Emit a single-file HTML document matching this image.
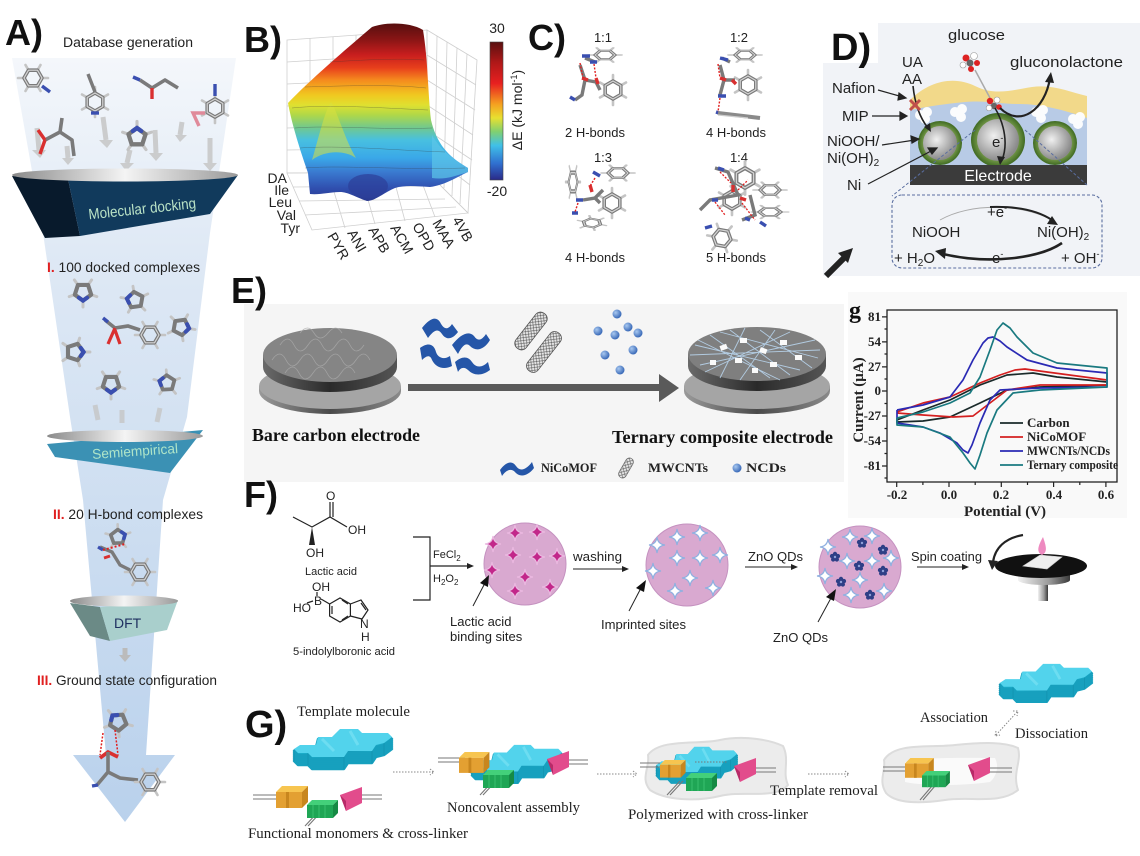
<!DOCTYPE html>
<html><head><meta charset="utf-8">
<style>
html,body{margin:0;padding:0;background:#fff;}
svg{display:block;}
.s{font-family:"Liberation Sans",Arial,sans-serif;}
.r{font-family:"Liberation Serif","Times New Roman",serif;}
</style></head><body>
<svg width="1140" height="856" viewBox="0 0 1140 856" xmlns="http://www.w3.org/2000/svg">
<defs>
<linearGradient id="cone" x1="0" y1="58" x2="0" y2="822" gradientUnits="userSpaceOnUse">
<stop offset="0" stop-color="#f4f7fb"/><stop offset="0.25" stop-color="#dfe9f5"/><stop offset="1" stop-color="#b9d1ec"/></linearGradient>
<linearGradient id="rim" x1="0" y1="0" x2="1" y2="0">
<stop offset="0" stop-color="#8a8a8a"/><stop offset="0.5" stop-color="#f4f4f4"/><stop offset="1" stop-color="#9a9a9a"/></linearGradient>
<linearGradient id="jet" x1="0" y1="25" x2="0" y2="200" gradientUnits="userSpaceOnUse">
<stop offset="0" stop-color="#5b0f0f"/><stop offset="0.086" stop-color="#8b1515"/><stop offset="0.17" stop-color="#c81e1e"/><stop offset="0.246" stop-color="#e8401c"/><stop offset="0.314" stop-color="#f58a1e"/><stop offset="0.4" stop-color="#f0c820"/><stop offset="0.457" stop-color="#e0e030"/><stop offset="0.514" stop-color="#b0d848"/><stop offset="0.589" stop-color="#70c890"/><stop offset="0.657" stop-color="#48c0e0"/><stop offset="0.76" stop-color="#3aa8e8"/><stop offset="0.84" stop-color="#3a7ad0"/><stop offset="0.93" stop-color="#3050b0"/><stop offset="1" stop-color="#2a3a90"/></linearGradient>
<linearGradient id="cbar" x1="0" y1="0" x2="0" y2="1">
<stop offset="0" stop-color="#5a1010"/><stop offset="0.15" stop-color="#b01818"/><stop offset="0.3" stop-color="#e82020"/><stop offset="0.45" stop-color="#f5a020"/><stop offset="0.55" stop-color="#e8e030"/><stop offset="0.65" stop-color="#80d070"/><stop offset="0.75" stop-color="#40c0e8"/><stop offset="0.88" stop-color="#3070d0"/><stop offset="1" stop-color="#2a2a88"/></linearGradient>
<radialGradient id="ball" cx="0.4" cy="0.4" r="0.6"><stop offset="0" stop-color="#f0f0f0"/><stop offset="1" stop-color="#8a8a8a"/></radialGradient>
<radialGradient id="gring" cx="0.5" cy="0.5" r="0.5"><stop offset="0.7" stop-color="#7da050"/><stop offset="1" stop-color="#3f6a22"/></radialGradient>
<linearGradient id="side" x1="0" y1="0" x2="1" y2="0"><stop offset="0" stop-color="#6a6a6a"/><stop offset="0.5" stop-color="#2a2a2a"/><stop offset="1" stop-color="#555"/></linearGradient>
<linearGradient id="ringside" x1="0" y1="0" x2="1" y2="0"><stop offset="0" stop-color="#9a9a9a"/><stop offset="0.5" stop-color="#4a4a4a"/><stop offset="1" stop-color="#8a8a8a"/></linearGradient>
<radialGradient id="dot" cx="0.35" cy="0.35" r="0.65"><stop offset="0" stop-color="#a8c8f0"/><stop offset="1" stop-color="#3a6ab8"/></radialGradient>
<pattern id="mesh" width="4" height="4" patternUnits="userSpaceOnUse"><rect width="4" height="4" fill="#e6e6e6"/><path d="M0,0 L4,4 M4,0 L0,4" stroke="#555" stroke-width="0.6"/></pattern>
<linearGradient id="spin" x1="0" y1="0" x2="1" y2="0"><stop offset="0" stop-color="#f2f2f2"/><stop offset="0.6" stop-color="#9a9a9a"/><stop offset="1" stop-color="#3a3a3a"/></linearGradient>
<linearGradient id="pzside" x1="0" y1="0" x2="1" y2="0"><stop offset="0" stop-color="#1fb4d0"/><stop offset="0.5" stop-color="#159ab8"/><stop offset="1" stop-color="#1fb0cc"/></linearGradient>
<g id="hx" fill="none" stroke-linecap="round">
<path d="M9,0 L15,0 M4.5,7.8 L7.5,13 M-4.5,7.8 L-7.5,13 M-9,0 L-15,0 M-4.5,-7.8 L-7.5,-13 M4.5,-7.8 L7.5,-13" stroke="#c4c4c4" stroke-width="2.6"/>
<polygon points="9,0 4.5,7.8 -4.5,7.8 -9,0 -4.5,-7.8 4.5,-7.8" stroke="#7a7a7a" stroke-width="3.6" stroke-linejoin="round"/>
<polygon points="9,0 4.5,7.8 -4.5,7.8 -9,0 -4.5,-7.8 4.5,-7.8" stroke="#d4d4d4" stroke-width="1.2" stroke-linejoin="round"/>
</g>
<g id="pn" fill="none" stroke-linecap="round">
<path d="M0,-7.5 L0,-13 M7.1,-2.3 L12,-4 M4.4,6.1 L7.5,10.5 M-4.4,6.1 L-7.5,10.5 M-7.1,-2.3 L-12,-4" stroke="#c4c4c4" stroke-width="2.6"/>
<polygon points="0,-7.5 7.1,-2.3 4.4,6.1 -4.4,6.1 -7.1,-2.3" stroke="#7a7a7a" stroke-width="3.6" stroke-linejoin="round"/>
<path d="M-3.5,-5 L0,-7.5 L3.5,-5" stroke="#3a4fb0" stroke-width="3.6"/>
</g>
<path id="st" d="M0,-8 Q0.8,-0.8 8,0 Q0.8,0.8 0,8 Q-0.8,0.8 -8,0 Q-0.8,-0.8 0,-8 Z"/>
<g id="qd" fill="#2e3f86"><circle cx="0" cy="-3" r="2.2"/><circle cx="2.9" cy="-0.9" r="2.2"/><circle cx="1.8" cy="2.4" r="2.2"/><circle cx="-1.8" cy="2.4" r="2.2"/><circle cx="-2.9" cy="-0.9" r="2.2"/><circle cx="0" cy="0" r="1.2" fill="#8fa0d8"/></g>
<path id="pzs" d="M8,18 L24,18 L26,10 L40,10 L48,2 L66,2 L70,6 L96,6 L100,10 L92,16 L84,18 L80,24 L56,24 L52,30 L20,30 L16,26 L6,26 L2,22 Z"/>
<g id="pz">
<g fill="url(#pzside)" stroke="#17a0be" stroke-width="2.4" stroke-linejoin="round">
<use href="#pzs" y="12"/><use href="#pzs" y="10"/><use href="#pzs" y="8"/><use href="#pzs" y="6"/><use href="#pzs" y="4"/><use href="#pzs" y="2"/>
</g>
<path d="M2,22 L2,34 M16,26 L16,38 M52,30 L52,42 M80,24 L80,36 M92,16 L92,28" stroke="#0f88a4" stroke-width="0.8" opacity="0.6"/>
<use href="#pzs" fill="#52d3ec"/>
<path d="M30,12 L42,24 M58,4 L66,18" stroke="#80e4f5" stroke-width="3" opacity="0.6"/>
</g>
<g id="ob"><rect x="0" y="6" width="26" height="16" fill="#e3a032"/><polygon points="0,6 6,0 32,0 26,6" fill="#f7c550"/><polygon points="26,6 32,0 32,16 26,22" fill="#c8861e"/><rect x="10" y="6" width="3" height="16" fill="#c8861e"/></g>
<g id="gb"><rect x="0" y="5" width="26" height="13" fill="#1fa655"/><polygon points="0,5 5,0 31,0 26,5" fill="#43d07a"/><polygon points="26,5 31,0 31,13 26,18" fill="#168a44"/><path d="M6,5 v13 M12,5 v13 M18,5 v13" stroke="#38c070" stroke-width="1"/></g>
<g id="pk"><polygon points="0,8 22,0 22,16 6,24" fill="#e24c8c"/><polygon points="0,8 6,24 6,14" fill="#b82a68"/></g>
</defs>

<!-- ================= PANEL A ================= -->
<polygon points="12,58 236,58 210,233 187,417 163,500 146,755 175,755 125,822 73,755 106,755 83,500 70,417 43,233" fill="url(#cone)"/>
<text class="s" x="5" y="45" font-size="36" font-weight="bold" fill="#111">A)</text>
<text class="s" x="63" y="47" font-size="13.5" fill="#222" textLength="130" lengthAdjust="spacingAndGlyphs">Database generation</text>
<g stroke="#c6c6c6" stroke-width="5" opacity="0.85">
<line x1="37" y1="128" x2="39" y2="150"/><line x1="103" y1="117" x2="106" y2="140"/><line x1="182" y1="122" x2="180" y2="135"/><line x1="210" y1="138" x2="210" y2="163"/><line x1="67" y1="146" x2="68" y2="158"/><line x1="130" y1="150" x2="127" y2="163"/><line x1="155" y1="130" x2="156" y2="153"/>
</g>
<g fill="#c6c6c6" opacity="0.85">
<polygon points="32,150 46,150 40,158"/><polygon points="99,140 113,140 107,148"/><polygon points="175,135 187,135 180,142"/><polygon points="203,163 217,163 210,171"/><polygon points="62,158 74,158 68,165"/><polygon points="120,163 134,163 126,171"/><polygon points="149,153 163,153 156,161"/>
</g>
<use href="#hx" transform="translate(33,78)"/>
<path d="M42,86 L50,92" stroke="#3a4fb0" stroke-width="3.4"/>
<use href="#hx" transform="translate(95,102) rotate(30)"/>
<path d="M95,92 L88,74" stroke="#7a7a7a" stroke-width="3.4"/><path d="M91,113 L99,113" stroke="#3a4fb0" stroke-width="3.4"/>
<path d="M140,80 L152,88 L165,80 L178,88" stroke="#7a7a7a" stroke-width="3.6" fill="none" stroke-linejoin="round"/>
<path d="M133,77 L140,80" stroke="#3a4fb0" stroke-width="3.4"/><path d="M152,88 L152,99" stroke="#d93030" stroke-width="3.4"/>
<use href="#hx" transform="translate(215,108) rotate(30)"/>
<path d="M205,113 L193,113 L199,126" stroke="#e08a9a" stroke-width="3.4" fill="none"/><path d="M215,96 L215,84" stroke="#3a4fb0" stroke-width="3.4"/>
<path d="M45,140 L60,132 L72,140 L74,156 M60,132 L62,118" stroke="#7a7a7a" stroke-width="3.6" fill="none" stroke-linejoin="round"/>
<path d="M45,140 L40,154 M45,140 L38,130" stroke="#d93030" stroke-width="3.4"/>
<use href="#pn" transform="translate(137,137) scale(1.2)"/>
<polygon points="12,176 68,179 80,236 45,238" fill="#081a2c"/>
<polygon points="68,179 238,175 210,214 80,236" fill="#113a5c"/>
<ellipse cx="125" cy="175" rx="113" ry="6.5" fill="url(#rim)"/>
<text class="s" x="88" y="214" font-size="15" fill="#b9e2c6" transform="rotate(-6 140 207)" textLength="108" lengthAdjust="spacingAndGlyphs">Molecular docking</text>
<text class="s" x="47" y="272" font-size="14" fill="#222" textLength="153" lengthAdjust="spacingAndGlyphs"><tspan fill="#e02020" font-weight="bold">I.</tspan> 100 docked complexes</text>
<use href="#pn" transform="translate(83,292) rotate(180) scale(1.15)"/>
<use href="#pn" transform="translate(135,300) rotate(-80) scale(1.1)"/>
<use href="#pn" transform="translate(181,327) rotate(100) scale(1.1)"/>
<use href="#pn" transform="translate(75,352) rotate(90) scale(1.15)"/>
<use href="#pn" transform="translate(111,384) rotate(180) scale(1.15)"/>
<use href="#pn" transform="translate(167,383) rotate(-75) scale(1.05)"/>
<use href="#hx" transform="translate(150,335)"/>
<path d="M105,320 L115,328 L128,326 L140,330" stroke="#7a7a7a" stroke-width="3.6" fill="none"/>
<path d="M103,318 L108,322" stroke="#3a4fb0" stroke-width="3.4"/><path d="M115,328 L108,344 M115,330 L120,344" stroke="#d93030" stroke-width="3.2"/>
<g stroke="#c6c6c6" stroke-width="5" opacity="0.8"><line x1="95" y1="405" x2="98" y2="420"/><line x1="122" y1="410" x2="122" y2="423"/><line x1="160" y1="408" x2="157" y2="422"/></g>
<polygon points="47,444 203,430 170,473 55,457" fill="#3b91b4"/>
<ellipse cx="125" cy="436" rx="78" ry="6" fill="url(#rim)"/>
<text class="s" x="92" y="456" font-size="14" fill="#aee4c8" transform="rotate(-4 135 451)" textLength="86" lengthAdjust="spacingAndGlyphs">Semiempirical</text>
<text class="s" x="53" y="519" font-size="14" fill="#222" textLength="150" lengthAdjust="spacingAndGlyphs"><tspan fill="#e02020" font-weight="bold">II.</tspan> 20 H-bond complexes</text>
<use href="#pn" transform="translate(118,537) rotate(70)"/>
<use href="#hx" transform="translate(140,572)"/>
<path d="M100,547 L112,552 L120,565 L130,570" stroke="#7a7a7a" stroke-width="3.4" fill="none"/>
<path d="M98,547 L103,550" stroke="#3a4fb0" stroke-width="3.2"/><path d="M104,558 L110,556" stroke="#d93030" stroke-width="3"/>
<path d="M103,550 L125,544" stroke="#e02020" stroke-width="2" stroke-dasharray="2,2"/>
<polygon points="70,603 100,607 110,641 90,636" fill="#6b8a86"/>
<polygon points="100,607 178,600 167,630 110,641" fill="#a9cfcc"/>
<ellipse cx="124" cy="601" rx="54" ry="5.5" fill="url(#rim)"/>
<text class="s" x="114" y="628" font-size="14" fill="#1f3060">DFT</text>
<line x1="125" y1="648" x2="125" y2="656" stroke="#bbb" stroke-width="5"/><polygon points="119,655 131,655 125,662" fill="#bbb"/>
<text class="s" x="37" y="685" font-size="14" fill="#222" textLength="180" lengthAdjust="spacingAndGlyphs"><tspan fill="#e02020" font-weight="bold">III.</tspan> Ground state configuration</text>
<use href="#pn" transform="translate(118,722) rotate(-40) scale(1.15)"/>
<path d="M103,733 L100,755 M115,730 L118,755" stroke="#e02020" stroke-width="1.5" stroke-dasharray="2,1.5"/>
<path d="M100,758 L108,752 L118,757" stroke="#d93030" stroke-width="3.6" fill="none"/>
<path d="M108,752 L108,772 L97,785 M108,772 L120,778 L138,780" stroke="#7a7a7a" stroke-width="3.6" fill="none"/>
<path d="M92,786 L98,785" stroke="#3a4fb0" stroke-width="3.4"/>
<use href="#hx" transform="translate(150,782)"/>

<!-- ================= PANEL B ================= -->
<text class="s" x="244" y="52" font-size="36" font-weight="bold" fill="#111">B)</text>
<g stroke="#cfcfcf" stroke-width="0.8" fill="none">
<polygon points="287,40 427,30 427,172 287,173"/>
<polygon points="427,30 477,60 468,213 427,172"/>
<polygon points="287,173 427,172 468,213 312,230"/>
<path d="M310,38 V173 M333,37 V173 M356,35 V173 M379,33 V172 M402,32 V172 M287,62 L427,53 M287,84 L427,77 M287,106 L427,101 M287,128 L427,124 M287,150 L427,148"/>
<path d="M437,36 L435,180 M447,42 L444,188 M457,48 L452,196 M467,54 L460,204 M427,55 L476,85 M427,80 L475,110 M427,105 L473,135 M427,130 L472,160 M427,152 L470,185"/>
<path d="M293,187 L433,186 M299,201 L445,199 M305,215 L456,207 M328,172 L345,228 M360,172 L375,224 M392,172 L405,221 M418,172 L435,217"/>
</g>
<path d="M288,103 C310,80 345,50 372,27 C385,22 410,22 423,30 C428,60 428,95 431,120 C438,150 455,160 468,168 L468,172 C455,178 445,185 430,187 C415,186 405,185 395,188 C385,192 375,201 367,201 C355,197 348,192 340,192 C330,192 320,195 310,194 L308,173 C300,150 292,125 288,103 Z" fill="url(#jet)"/>
<path d="M432,135 C440,150 455,160 468,168 L468,172 C455,176 445,180 432,178 Z" fill="#5cc6e8" opacity="0.7"/>
<path d="M312,160 C318,140 325,110 331,102 C336,108 345,140 356,158 C345,150 325,150 312,160 Z" fill="#d8e040" opacity="0.55"/>
<ellipse cx="368" cy="186" rx="20" ry="12" fill="#2c3f98" opacity="0.7"/>
<g stroke="#333" stroke-width="0.5" fill="none" opacity="0.45">
<path d="M330,62 C360,60 400,58 424,60"/><path d="M305,87 C340,86 390,84 426,88"/><path d="M292,108 C330,104 380,108 428,110"/><path d="M295,128 C330,125 380,130 432,128"/><path d="M300,148 C340,145 390,150 445,152"/><path d="M305,168 C340,165 400,170 465,168"/>
</g>
<rect x="490" y="42" width="13" height="138" fill="url(#cbar)"/>
<rect x="490" y="42" width="13" height="138" fill="none" stroke="#444" stroke-width="0.6"/>
<text class="s" x="497" y="33" font-size="14" fill="#222" text-anchor="middle">30</text>
<text class="s" x="497" y="196" font-size="14" fill="#222" text-anchor="middle">-20</text>
<text class="s" x="522" y="110" font-size="14" fill="#222" text-anchor="middle" transform="rotate(-90 522 110)">ΔE (kJ mol<tspan font-size="9" dy="-5">-1</tspan><tspan dy="5">)</tspan></text>
<g class="s" font-size="14" fill="#222" text-anchor="end">
<text x="287" y="183">DA</text><text x="289" y="195">Ile</text><text x="292" y="207">Leu</text><text x="296" y="220">Val</text><text x="300" y="233">Tyr</text>
</g>
<g class="s" font-size="14" fill="#222">
<text x="327" y="236" transform="rotate(60 327 236)">PYR</text>
<text x="347" y="233" transform="rotate(60 347 233)">ANI</text>
<text x="368" y="230" transform="rotate(60 368 230)">APB</text>
<text x="390" y="228" transform="rotate(60 390 228)">ACM</text>
<text x="412" y="226" transform="rotate(60 412 226)">OPD</text>
<text x="432" y="223" transform="rotate(60 432 223)">MAA</text>
<text x="452" y="220" transform="rotate(60 452 220)">4VB</text>
</g>

<!-- ================= PANEL C ================= -->
<text class="s" x="528" y="50" font-size="36" font-weight="bold" fill="#111">C)</text>
<g class="s" font-size="13" fill="#222" text-anchor="middle">
<text x="603" y="42">1:1</text><text x="739" y="42">1:2</text>
<text x="595" y="137">2 H-bonds</text><text x="736" y="137">4 H-bonds</text>
<text x="603" y="162">1:3</text><text x="739" y="162">1:4</text>
<text x="595" y="262">4 H-bonds</text><text x="736" y="262">5 H-bonds</text>
</g>
<use href="#hx" transform="translate(605,55) scale(1.1,0.55)"/>
<use href="#hx" transform="translate(613,90) rotate(90)"/>
<path d="M585,58 L595,62 M580,65 L585,80 L582,95 L575,100 M585,80 L596,82 L600,90" stroke="#7a7a7a" stroke-width="3.4" fill="none"/>
<path d="M582,56 L590,56 M590,62 L597,62" stroke="#3a4fb0" stroke-width="3.4"/><path d="M582,78 L588,80 M596,78 L598,84" stroke="#d93030" stroke-width="3.4"/>
<path d="M570,97 L575,100" stroke="#3a4fb0" stroke-width="3.4"/>
<path d="M580,63 L583,78 M594,64 L596,78" stroke="#e02020" stroke-width="1.4" stroke-dasharray="2,1.5"/>
<use href="#hx" transform="translate(745,55) scale(1.1,0.55)"/>
<use href="#hx" transform="translate(748,85) rotate(90)"/>
<path d="M722,58 L730,62 M720,65 L724,80 L720,95 M724,80 L735,80" stroke="#7a7a7a" stroke-width="3.4" fill="none"/>
<path d="M720,58 L728,60 M718,96 L726,96 M716,112 L722,114" stroke="#3a4fb0" stroke-width="3.4"/><path d="M720,78 L726,80 M732,80 L736,84" stroke="#d93030" stroke-width="3.4"/>
<path d="M718,64 L720,78 M720,98 L718,112" stroke="#e02020" stroke-width="1.4" stroke-dasharray="2,1.5"/>
<path d="M718,113 L760,118" stroke="#8a8a8a" stroke-width="4"/><path d="M718,115 L748,118" stroke="#ccc" stroke-width="1.2"/>
<use href="#hx" transform="translate(618,173) scale(1.1,0.6)"/>
<use href="#hx" transform="translate(612,203) rotate(90)"/>
<use href="#hx" transform="translate(573,182) scale(0.5,1.2)"/>
<use href="#hx" transform="translate(592,223) scale(1,0.5) rotate(20)"/>
<path d="M583,200 L595,198 L603,190 M595,198 L600,203" stroke="#7a7a7a" stroke-width="3.4" fill="none"/>
<path d="M593,172 L600,176 M576,200 L583,200 M572,213 L578,213" stroke="#3a4fb0" stroke-width="3.4"/><path d="M590,185 L592,192" stroke="#d93030" stroke-width="3.4"/>
<path d="M595,178 L590,186 M578,203 L575,212" stroke="#e02020" stroke-width="1.4" stroke-dasharray="2,1.5"/>
<use href="#hx" transform="translate(745,178) rotate(90) scale(1.1)"/>
<use href="#hx" transform="translate(770,190) scale(1.1,0.6)"/>
<use href="#hx" transform="translate(770,212) scale(1.2,0.5)"/>
<use href="#hx" transform="translate(722,238) rotate(10)"/>
<use href="#hx" transform="translate(732,200) rotate(30)"/>
<path d="M715,168 L728,172 L738,195 L710,200 L700,210 M750,195 L755,215 L742,220" stroke="#7a7a7a" stroke-width="3.4" fill="none"/>
<path d="M718,168 L724,170 M712,200 L718,200 M745,218 L750,220 M705,228 L712,226 M760,222 L766,226" stroke="#3a4fb0" stroke-width="3.4"/>
<path d="M733,185 L733,192 M740,198 L746,200" stroke="#d93030" stroke-width="3.4"/>
<path d="M720,172 L731,183 M715,202 L725,215 M742,203 L755,220 M738,190 L748,180" stroke="#e02020" stroke-width="1.3" stroke-dasharray="2,1.5"/>

<!-- ================= PANEL D ================= -->
<path d="M878,23 H1140 V276 H823 V63 H878 Z" fill="#f1f3f7"/>
<text class="s" x="831" y="60" font-size="38" font-weight="bold" fill="#111">D)</text>
<g class="s" font-size="15" fill="#222">
<text x="948" y="40" textLength="57" lengthAdjust="spacingAndGlyphs">glucose</text>
<text x="902" y="67">UA</text><text x="902" y="84">AA</text>
<text x="1010" y="67" textLength="113" lengthAdjust="spacingAndGlyphs">gluconolactone</text>
<text x="832" y="93">Nafion</text>
<text x="842" y="121">MIP</text>
<text x="827" y="146">NiOOH/</text>
<text x="827" y="163">Ni(OH)<tspan font-size="10" dy="3">2</tspan></text>
<text x="847" y="190">Ni</text>
</g>
<path d="M910,103 C930,86 955,82 975,90 S1012,96 1032,94 S1070,97 1087,100 L1087,165 L910,165 Z" fill="#b8cbe6"/>
<path d="M910,100 C930,80 955,76 975,86 S1012,90 1032,87 S1070,92 1087,96 L1087,118 C1065,110 1040,104 1020,104 S985,100 965,102 S930,106 910,110 Z" fill="#f2d98a"/>
<g fill="#fff" opacity="0.95">
<circle cx="920" cy="115" r="5"/><circle cx="927" cy="112" r="5"/><circle cx="925" cy="119" r="5"/>
<circle cx="955" cy="112" r="5"/><circle cx="962" cy="109" r="5"/><circle cx="961" cy="117" r="5"/>
<circle cx="1036" cy="112" r="5"/><circle cx="1043" cy="110" r="5"/><circle cx="1041" cy="118" r="5"/>
<circle cx="1073" cy="119" r="5"/><circle cx="1080" cy="117" r="5"/><circle cx="1078" cy="124" r="5"/>
</g>
<circle cx="940" cy="143" r="22" fill="url(#gring)"/><circle cx="940" cy="143" r="17" fill="url(#ball)"/>
<circle cx="998" cy="140" r="27" fill="url(#gring)"/><circle cx="998" cy="140" r="21" fill="url(#ball)"/>
<circle cx="1055" cy="143" r="22" fill="url(#gring)"/><circle cx="1055" cy="143" r="17" fill="url(#ball)"/>
<rect x="910" y="165" width="177" height="20" fill="#3b3b3b"/>
<text class="s" x="998" y="181" font-size="16" fill="#fff" text-anchor="middle">Electrode</text>
<text class="s" x="992" y="147" font-size="15" fill="#222">e<tspan font-size="9" dy="-6">-</tspan></text>
<g stroke="#222" stroke-width="1.2" fill="#222">
<line x1="878" y1="90" x2="903" y2="97"/><polygon points="906,98 899,93 898,100"/>
<line x1="872" y1="116" x2="903" y2="116"/><polygon points="907,116 900,112 900,120"/>
<line x1="882" y1="145" x2="915" y2="140"/><polygon points="919,139 911,136 912,143"/>
<line x1="868" y1="184" x2="933" y2="150"/><polygon points="937,148 928,148 932,154"/>
</g>
<path d="M913,86 C915,105 920,118 928,128" stroke="#222" stroke-width="1.6" fill="none"/><polygon points="931,132 924,127 930,123" fill="#222"/>
<path d="M910,100 L920,110 M920,100 L910,110" stroke="#c0504a" stroke-width="3"/>
<g><circle cx="966" cy="58" r="3.5" fill="#d22"/><circle cx="974" cy="56" r="3.5" fill="#fff" stroke="#999" stroke-width="0.6"/><circle cx="970" cy="63" r="3.5" fill="#666"/><circle cx="977" cy="63" r="3" fill="#d22"/><circle cx="963" cy="65" r="3" fill="#fff" stroke="#999" stroke-width="0.6"/><circle cx="971" cy="69" r="3" fill="#d22"/></g>
<line x1="975" y1="70" x2="990" y2="98" stroke="#aaa" stroke-width="1.5"/>
<g><circle cx="990" cy="101" r="3.2" fill="#d22"/><circle cx="997" cy="100" r="3" fill="#fff" stroke="#999" stroke-width="0.6"/><circle cx="994" cy="106" r="3.2" fill="#666"/><circle cx="999" cy="107" r="2.8" fill="#d22"/><circle cx="989" cy="108" r="2.8" fill="#fff" stroke="#999" stroke-width="0.6"/></g>
<path d="M995,108 C1005,125 1008,145 1002,160" stroke="#222" stroke-width="1.6" fill="none"/><polygon points="1000,165 997,156 1005,157" fill="#222"/>
<path d="M1000,108 C1020,128 1045,110 1050,78" stroke="#222" stroke-width="2.2" fill="none"/><polygon points="1051,72 1045,82 1054,83" fill="#222"/>
<path d="M975,130 L892,196 M1025,130 L1087,185" stroke="#5a6ea0" stroke-width="1" stroke-dasharray="3,2" fill="none"/>
<rect x="892" y="195" width="210" height="73" rx="10" fill="none" stroke="#5a6ea0" stroke-width="1.1" stroke-dasharray="3,2"/>
<g class="s" font-size="15" fill="#222">
<text x="987" y="217">+e<tspan font-size="9" dy="-6">-</tspan></text>
<text x="912" y="237">NiOOH</text>
<text x="1037" y="237">Ni(OH)<tspan font-size="10" dy="3">2</tspan></text>
<text x="894" y="263">+ H<tspan font-size="10" dy="3">2</tspan><tspan dy="-3">O</tspan></text>
<text x="987" y="263">-e<tspan font-size="9" dy="-6">-</tspan></text>
<text x="1061" y="263">+ OH<tspan font-size="9" dy="-6">-</tspan></text>
</g>
<path d="M940,220 C970,203 1020,203 1052,220" stroke="#aaa" stroke-width="1" fill="none"/>
<path d="M990,207 C1020,206 1040,212 1052,220" stroke="#222" stroke-width="2" fill="none"/><polygon points="1058,225 1047,224 1052,216" fill="#222"/>
<path d="M1062,243 C1040,258 990,265 943,254" stroke="#222" stroke-width="2.6" fill="none"/><polygon points="935,251 946,248 945,259" fill="#222"/>
<path d="M826,276 L846,256" stroke="#222" stroke-width="6"/><polygon points="853,248 838,253 848,263" fill="#222"/>

<!-- ================= PANEL E ================= -->
<rect x="244" y="304" width="600" height="178" fill="#f5f5f5"/>
<text class="s" x="231" y="303" font-size="36" font-weight="bold" fill="#111">E)</text>
<path d="M259,386 L259,391 A71,23 0 0 0 401,391 L401,386 Z" fill="url(#ringside)"/>
<ellipse cx="330" cy="386" rx="71" ry="23" fill="#a5a5a5"/>
<path d="M263,355 L263,367 A67,25 0 0 0 397,367 L397,355 Z" fill="url(#side)"/>
<ellipse cx="330" cy="355" rx="67" ry="27" fill="#858585"/>
<g stroke="#aaa" stroke-width="0.8" fill="none" opacity="0.8">
<path d="M280,345 q8,-12 14,0 t14,0 t14,0 t14,0 t14,0 t14,0"/><path d="M272,360 q8,-12 14,0 t14,0 t14,0 t14,0 t14,0 t14,0 t14,0"/><path d="M285,373 q8,-12 14,0 t14,0 t14,0 t14,0 t14,0"/><path d="M300,333 q8,-10 14,0 t14,0 t14,0"/>
</g>
<rect x="408" y="384" width="252" height="7" fill="#5a5a5a"/>
<polygon points="659,374 679,388 659,402" fill="#5a5a5a"/>
<g fill="#2556a8">
<path d="M422,328 C430,318 436,316 440,322 C444,330 448,330 452,324 L458,332 C452,340 446,340 442,334 C438,328 434,330 428,338 Z"/>
<path d="M452,345 C460,335 468,330 474,336 C478,342 482,340 486,334 L490,340 C484,350 476,352 470,346 C466,342 462,346 458,354 Z"/>
<path d="M420,348 C428,342 434,344 436,352 C438,358 444,360 450,356 L452,366 C444,370 436,368 432,360 C430,354 426,356 422,360 Z"/>
<path d="M455,362 C462,356 468,356 472,362 C476,368 482,368 488,362 L490,370 C482,376 474,376 468,370 C464,366 460,368 458,372 Z"/>
</g>
<g transform="translate(531,331) rotate(-52)"><rect x="-22" y="-6.5" width="44" height="13" rx="6" fill="url(#mesh)" stroke="#555" stroke-width="0.8"/></g>
<g transform="translate(544,352) rotate(-52)"><rect x="-24" y="-6.5" width="48" height="13" rx="6" fill="url(#mesh)" stroke="#555" stroke-width="0.8"/></g>
<g fill="url(#dot)">
<circle cx="617" cy="314" r="4.5"/><circle cx="628" cy="327" r="4.5"/><circle cx="598" cy="331" r="4.5"/><circle cx="615" cy="335" r="4.5"/><circle cx="638" cy="333" r="4.5"/><circle cx="633" cy="350" r="4.5"/><circle cx="605" cy="355" r="4.5"/><circle cx="620" cy="370" r="4.5"/>
</g>
<path d="M684,386 L684,391 A73,23 0 0 0 830,391 L830,386 Z" fill="url(#ringside)"/>
<ellipse cx="757" cy="386" rx="73" ry="23" fill="#a5a5a5"/>
<path d="M688,354 L688,366 A69,25 0 0 0 826,366 L826,354 Z" fill="url(#side)"/>
<ellipse cx="757" cy="354" rx="69" ry="27" fill="#7f7f7f"/>
<g stroke="#b8d4ec" stroke-width="0.9" fill="none" opacity="0.9">
<path d="M695,345 L800,370 M700,365 L815,340 M710,335 L770,378 M730,330 L790,375 M745,328 L720,378 M690,355 L820,350 M760,330 L812,368 M705,372 L790,332 M775,330 L740,380 M698,340 L780,380 M720,332 L818,358"/>
</g>
<g fill="#fafafa">
<rect x="720" y="345" width="7" height="5" transform="rotate(-20 723 347)"/><rect x="740" y="338" width="7" height="5"/><rect x="760" y="348" width="7" height="5" transform="rotate(20 763 350)"/><rect x="780" y="340" width="7" height="5"/><rect x="735" y="358" width="7" height="5"/><rect x="770" y="362" width="7" height="5"/><rect x="795" y="355" width="7" height="5"/><rect x="710" y="360" width="6" height="5"/><rect x="752" y="368" width="6" height="5"/>
</g>
<text class="r" x="252" y="441" font-size="18" font-weight="bold" fill="#111" textLength="168" lengthAdjust="spacingAndGlyphs">Bare carbon electrode</text>
<text class="r" x="612" y="443" font-size="18" font-weight="bold" fill="#111" textLength="221" lengthAdjust="spacingAndGlyphs">Ternary composite electrode</text>
<path d="M500,470 C506,462 512,460 516,466 C520,472 526,470 532,462 L534,468 C528,476 520,478 515,472 C511,468 506,470 502,476 Z" fill="#2556a8"/>
<text class="r" x="541" y="472" font-size="13" font-weight="bold" fill="#222" textLength="56" lengthAdjust="spacingAndGlyphs">NiCoMOF</text>
<g transform="translate(626,468) rotate(-60)"><rect x="-11" y="-4" width="22" height="8" rx="4" fill="url(#mesh)" stroke="#666" stroke-width="0.6"/></g>
<text class="r" x="648" y="472" font-size="13" font-weight="bold" fill="#222" textLength="60" lengthAdjust="spacingAndGlyphs">MWCNTs</text>
<circle cx="737" cy="468" r="4.5" fill="url(#dot)"/>
<text class="r" x="746" y="472" font-size="13" font-weight="bold" fill="#222" textLength="40" lengthAdjust="spacingAndGlyphs">NCDs</text>

<!-- ================= PANEL g (CV) ================= -->
<rect x="848" y="292" width="279" height="226" fill="#f9f9f9"/>
<text class="r" x="849" y="318" font-size="24" font-weight="bold" fill="#111">g</text>
<rect x="887" y="310" width="230" height="172" fill="none" stroke="#222" stroke-width="1.3"/>
<g stroke="#222" stroke-width="1.2">
<path d="M882,316.9 H887 M882,341.9 H887 M882,366.9 H887 M882,391 H887 M882,416 H887 M882,441 H887 M882,466 H887"/>
<path d="M884.5,329 H887 M884.5,354 H887 M884.5,379 H887 M884.5,403.5 H887 M884.5,428.5 H887 M884.5,453.5 H887 M884.5,478 H887"/>
<path d="M896.7,482 V487 M949,482 V487 M1001.3,482 V487 M1053.6,482 V487 M1105.9,482 V487 M922.9,482 V485 M975.2,482 V485 M1027.5,482 V485 M1079.8,482 V485"/>
</g>
<g class="r" font-size="13" font-weight="bold" fill="#222" text-anchor="end">
<text x="881" y="321">81</text><text x="881" y="346">54</text><text x="881" y="371">27</text><text x="881" y="395">0</text><text x="881" y="420">-27</text><text x="881" y="445">-54</text><text x="881" y="470">-81</text>
</g>
<g class="r" font-size="13" font-weight="bold" fill="#222" text-anchor="middle">
<text x="897" y="499">-0.2</text><text x="949" y="499">0.0</text><text x="1001" y="499">0.2</text><text x="1054" y="499">0.4</text><text x="1106" y="499">0.6</text>
</g>
<text class="r" x="1005" y="516" font-size="15" font-weight="bold" fill="#222" text-anchor="middle">Potential (V)</text>
<text class="r" x="863" y="400" font-size="15" font-weight="bold" fill="#222" text-anchor="middle" transform="rotate(-90 863 400)">Current (μA)</text>
<g fill="none" stroke-width="1.7" stroke-linejoin="round">
<polyline stroke="#1a2a2a" points="897,420 923,410 950,400 980,385 1007,375 1033,373 1057,377 1107,382 1107,385 1040,387 1007,390 980,403 950,417 923,421 897,422 897,420"/>
<polyline stroke="#d42020" points="897,412 923,403 950,397 965,390 980,383 1000,375 1015,370 1025,369 1047,372 1107,380 1107,385 1040,385 1007,390 990,403 973,416 953,417 923,415 897,413"/>
<polyline stroke="#2a2ab4" points="897,410 923,405 950,397 963,380 973,360 983,343 988,338 993,337 1000,341 1007,347 1027,360 1057,368 1107,373 1107,387 1040,388 1000,390 990,400 980,423 972,445 968,453 963,450 957,443 940,433 923,427 897,423 897,410"/>
<polyline stroke="#1a7a80" points="897,418 923,412 950,403 970,393 980,377 990,350 997,330 1003,323 1010,328 1017,337 1033,353 1057,363 1107,368 1107,387 1040,390 1013,393 997,410 987,433 980,455 975,469 970,463 963,453 950,437 923,427 897,425 897,418"/>
</g>
<g stroke-width="1.8">
<line x1="1000" y1="423" x2="1023" y2="423" stroke="#1a2a2a"/>
<line x1="1000" y1="437" x2="1023" y2="437" stroke="#d42020"/>
<line x1="1000" y1="451" x2="1023" y2="451" stroke="#2a2ab4"/>
<line x1="1000" y1="465" x2="1023" y2="465" stroke="#1a7a80"/>
</g>
<g class="r" font-size="13" font-weight="bold" fill="#222">
<text x="1027" y="427">Carbon</text><text x="1027" y="441">NiCoMOF</text><text x="1027" y="455" textLength="83" lengthAdjust="spacingAndGlyphs">MWCNTs/NCDs</text><text x="1027" y="469" textLength="91" lengthAdjust="spacingAndGlyphs">Ternary composite</text>
</g>

<!-- ================= PANEL F ================= -->
<text class="s" x="244" y="507" font-size="36" font-weight="bold" fill="#111">F)</text>
<g stroke="#222" stroke-width="1.2" fill="none">
<path d="M293,517 L312,527 L330,517 L347,527"/><path d="M330,517 L330,502 M333,517 L333,502"/>
<path d="M329.6,604 L340,598 L350.4,604 L350.4,616 L340,622 L329.6,616 Z"/><path d="M332,606 L332,614 M342,620 L348,616 M342,600 L348,604"/>
<path d="M350.4,604 L361,600 L368,610 L362,619 L350.4,616"/><path d="M361,603 L366,610"/>
<path d="M329.6,604 L321,599"/><path d="M317,596 L317,592"/><path d="M313,601 L307,603"/>
</g>
<polygon points="312,527 309,545 315,545" fill="#222"/>
<g class="s" font-size="12" fill="#222">
<text x="326" y="500">O</text><text x="348" y="534">OH</text><text x="306" y="557">OH</text>
<text x="305" y="575" font-size="11" textLength="52" lengthAdjust="spacingAndGlyphs">Lactic acid</text>
<text x="312" y="591">OH</text><text x="314" y="605">B</text><text x="293" y="612">HO</text><text x="360" y="628">N</text><text x="361" y="641">H</text>
<text x="293" y="655" font-size="11" textLength="102" lengthAdjust="spacingAndGlyphs">5-indolylboronic acid</text>
</g>
<path d="M413,537 H430 V600 H413 M430,566 H470" stroke="#222" stroke-width="1.2" fill="none"/><polygon points="474,566 467,563 467,569" fill="#222"/>
<text class="s" x="433" y="558" font-size="11" fill="#222">FeCl<tspan font-size="8" dy="3">2</tspan></text>
<text class="s" x="433" y="582" font-size="11" fill="#222">H<tspan font-size="8" dy="3">2</tspan><tspan dy="-3">O</tspan><tspan font-size="8" dy="3">2</tspan></text>
<circle cx="525" cy="564" r="41" fill="#d9a9d0" stroke="#c592c0" stroke-width="1"/>
<g fill="#c2278a" stroke="#eab8e0" stroke-width="1.2">
<use href="#st" x="515" y="533"/><use href="#st" x="537" y="532"/><use href="#st" x="493" y="544"/><use href="#st" x="513" y="555"/><use href="#st" x="537" y="557"/><use href="#st" x="557" y="556"/><use href="#st" x="492" y="570"/><use href="#st" x="525" y="577"/><use href="#st" x="515" y="591"/><use href="#st" x="550" y="587"/>
</g>
<line x1="473" y1="606" x2="485" y2="583" stroke="#222" stroke-width="1"/><polygon points="489,575 480,583 488,587" fill="#111"/>
<text class="s" x="450" y="626" font-size="13" fill="#222">Lactic acid</text>
<text class="s" x="450" y="641" font-size="13" fill="#222">binding sites</text>
<text class="s" x="573" y="561" font-size="13" fill="#222" textLength="49" lengthAdjust="spacingAndGlyphs">washing</text>
<line x1="573" y1="569" x2="624" y2="569" stroke="#222" stroke-width="1"/><polygon points="629,569 622,566 622,572" fill="#222"/>
<circle cx="687" cy="565" r="41" fill="#d9a9d0" stroke="#c592c0" stroke-width="1"/>
<g fill="#fff" stroke="#8fb0e0" stroke-width="1.2">
<use href="#st" x="657" y="545"/><use href="#st" x="677" y="537"/><use href="#st" x="700" y="533"/><use href="#st" x="677" y="558"/><use href="#st" x="700" y="558"/><use href="#st" x="720" y="555"/><use href="#st" x="653" y="571"/><use href="#st" x="690" y="578"/><use href="#st" x="675" y="591"/><use href="#st" x="713" y="588"/>
</g>
<line x1="629" y1="611" x2="641" y2="588" stroke="#222" stroke-width="1"/><polygon points="646,580 636,588 644,592" fill="#111"/>
<text class="s" x="601" y="629" font-size="13" fill="#222" textLength="85" lengthAdjust="spacingAndGlyphs">Imprinted sites</text>
<text class="s" x="748" y="561" font-size="13" fill="#222" textLength="55" lengthAdjust="spacingAndGlyphs">ZnO QDs</text>
<line x1="745" y1="567" x2="793" y2="567" stroke="#222" stroke-width="1"/><polygon points="798,567 791,564 791,570" fill="#222"/>
<circle cx="860" cy="567" r="41" fill="#d9a9d0" stroke="#c592c0" stroke-width="1"/>
<g fill="#fff" stroke="#8fb0e0" stroke-width="1.2">
<use href="#st" x="850" y="537"/><use href="#st" x="872" y="536"/><use href="#st" x="828" y="547"/><use href="#st" x="847" y="561"/><use href="#st" x="872" y="561"/><use href="#st" x="891" y="558"/><use href="#st" x="825" y="576"/><use href="#st" x="860" y="580"/><use href="#st" x="851" y="595"/><use href="#st" x="884" y="591"/>
</g>
<use href="#qd" x="862" y="543"/><use href="#qd" x="883" y="550"/><use href="#qd" x="835" y="557"/><use href="#qd" x="859" y="566"/><use href="#qd" x="883" y="571"/><use href="#qd" x="841" y="582"/><use href="#qd" x="870" y="595"/>
<line x1="818" y1="622" x2="831" y2="598" stroke="#222" stroke-width="1"/><polygon points="836,589 826,597 834,601" fill="#111"/>
<text class="s" x="773" y="642" font-size="13" fill="#222" textLength="55" lengthAdjust="spacingAndGlyphs">ZnO QDs</text>
<text class="s" x="911" y="561" font-size="13" fill="#222" textLength="71" lengthAdjust="spacingAndGlyphs">Spin coating</text>
<line x1="917" y1="567" x2="964" y2="567" stroke="#222" stroke-width="1"/><polygon points="969,567 962,564 962,570" fill="#222"/>
<rect x="1038" y="580" width="10" height="21" fill="url(#spin)"/>
<path d="M1018,568 L1018,580 A26,5 0 0 0 1070,580 L1070,568 Z" fill="url(#spin)"/>
<ellipse cx="1041" cy="566" rx="46" ry="12" fill="#111"/>
<polygon points="1023,566 1040,555 1062,557 1047,569" fill="#eee" stroke="#ccc" stroke-width="0.6"/>
<path d="M1043,537 C1038,546 1036,552 1042,555 C1048,552 1046,546 1043,537 Z" fill="#ee8ac0"/>
<path d="M1023,535 C1005,538 995,548 993,562" stroke="#222" stroke-width="2.2" fill="none"/><polygon points="988,560 998,561 992,570" fill="#222"/>

<!-- ================= PANEL G ================= -->
<text class="s" x="245" y="737" font-size="38" font-weight="bold" fill="#111">G)</text>
<text class="r" x="297" y="716" font-size="15" fill="#222" textLength="113" lengthAdjust="spacingAndGlyphs">Template molecule</text>
<use href="#pz" transform="translate(292,727)"/>
<g stroke="#888" stroke-width="1" stroke-dasharray="1.5,1.5" fill="none">
<path d="M393,772 H433 M430,769 L434,772 L430,775"/>
<path d="M597,774 H636 M633,771 L637,774 L633,777"/>
<path d="M808,774 H848 M845,771 L849,774 L845,777"/>
<path d="M996,735 L1017,712 M996,731 L995,736 L1000,735 M1013,711 L1018,711 L1017,716"/>
</g>
<g stroke="#777" stroke-width="1.1"><path d="M253,795 H280 M253,799 H280"/><path d="M353,795 H382 M353,799 H382"/><path d="M305,826 L318,812 M308,826 L321,812"/></g>
<use href="#ob" transform="translate(276,786)"/>
<use href="#gb" transform="translate(307,800)"/>
<use href="#pk" transform="translate(340,787)"/>
<text class="r" x="248" y="838" font-size="15" fill="#222" textLength="220" lengthAdjust="spacingAndGlyphs">Functional monomers &amp; cross-linker</text>
<use href="#pz" transform="translate(470,743) scale(0.92,0.95)"/>
<g stroke="#777" stroke-width="1.1"><path d="M438,758 H465 M438,762 H465"/><path d="M560,760 H588 M560,764 H588"/><path d="M480,795 L492,782 M483,795 L495,782"/></g>
<use href="#ob" transform="translate(459,752) scale(0.95)"/>
<use href="#gb" transform="translate(483,770)"/>
<use href="#pk" transform="translate(547,751)"/>
<text class="r" x="447" y="812" font-size="15" fill="#222" textLength="133" lengthAdjust="spacingAndGlyphs">Noncovalent assembly</text>
<path d="M648,755 C660,738 700,745 720,740 C745,735 770,740 783,746 C790,760 782,772 788,785 C775,800 745,790 720,796 C695,802 665,800 650,790 C640,778 650,768 648,755 Z" fill="#ececec" stroke="#dcdcdc" stroke-width="2"/>
<use href="#pz" transform="translate(655,745) scale(0.82,0.9)"/>
<g stroke="#777" stroke-width="1.1"><path d="M752,768 H776 M752,772 H776"/><path d="M667,795 L680,781 M670,795 L683,781"/><path d="M640,763 H660 M640,767 H660"/></g>
<use href="#ob" transform="translate(660,760) scale(0.8)"/>
<use href="#gb" transform="translate(686,773)"/>
<use href="#pk" transform="translate(734,758)"/>
<path d="M695,762 H727" stroke="#777" stroke-width="1" stroke-dasharray="1.5,1.5"/>
<text class="r" x="628" y="819" font-size="15" fill="#222" textLength="180" lengthAdjust="spacingAndGlyphs">Polymerized with cross-linker</text>
<text class="r" x="770" y="795" font-size="15" fill="#222" textLength="108" lengthAdjust="spacingAndGlyphs">Template removal</text>
<path d="M884,760 C895,742 930,748 955,745 C985,742 1005,742 1018,748 C1022,762 1012,772 1018,790 C1000,805 970,796 945,800 C918,804 895,803 886,793 C878,780 886,772 884,760 Z" fill="#ececec" stroke="#dcdcdc" stroke-width="2"/>
<path d="M905,762 C925,757 960,758 995,758 C1000,768 995,778 990,782 C960,786 925,786 905,782 Z" fill="#fafafa"/>
<g stroke="#777" stroke-width="1.1"><path d="M883,767 H908 M883,771 H908"/><path d="M988,768 H1012 M988,772 H1012"/><path d="M920,800 L932,786 M923,800 L935,786"/></g>
<use href="#ob" transform="translate(905,758) scale(0.9)"/>
<use href="#gb" transform="translate(922,771) scale(0.9)"/>
<use href="#pk" transform="translate(968,757) scale(1)"/>
<use href="#pz" transform="translate(998,662) scale(0.94,0.95)"/>
<text class="r" x="920" y="722" font-size="15" fill="#222" textLength="68" lengthAdjust="spacingAndGlyphs">Association</text>
<text class="r" x="1015" y="738" font-size="15" fill="#222" textLength="73" lengthAdjust="spacingAndGlyphs">Dissociation</text>
</svg>
</body></html>
